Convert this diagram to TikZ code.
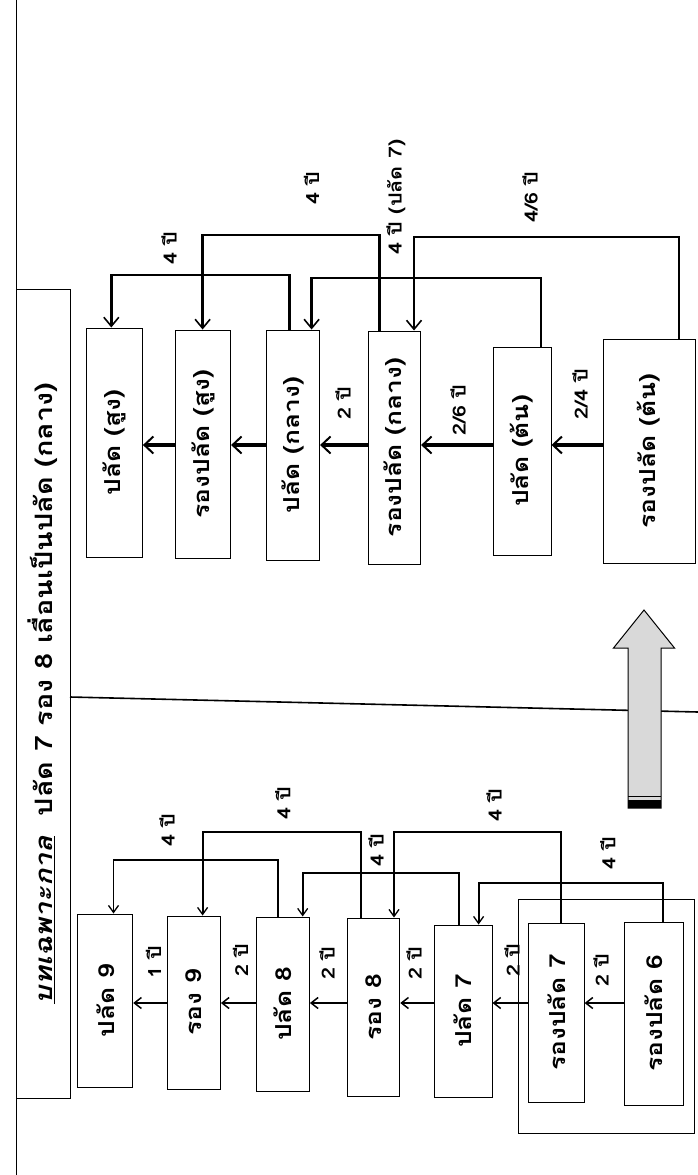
\documentclass[tikz,border=0pt]{standalone}
\usepackage{fontspec}
\newfontfamily\thai[Script=Thai, FakeStretch=1.2]{Loma}
\usetikzlibrary{arrows.meta}
\newcommand{\rt}[1]{\rotatebox{90}{#1}}
\begin{document}
\begin{tikzpicture}[x=1pt,y=-1pt,
  box/.style={draw, line width=1pt, inner sep=0pt, font=\thai\bfseries\fontsize{22}{22}\selectfont},
  lbl/.style={inner sep=0pt, font=\thai\bfseries\fontsize{18}{18}\selectfont},
  harr/.style={line width=3.2pt, -{Straight Barb[length=9pt,width=17pt,line width=2pt]}},
  barr/.style={line width=2.6pt, -{Straight Barb[length=9pt,width=15pt,line width=1.6pt]}},
  sharr/.style={line width=2.4pt, -{Straight Barb[length=7pt,width=11pt,line width=1.5pt]}},
  sbarr/.style={line width=1.9pt, -{Straight Barb[length=7pt,width=10pt,line width=1.3pt]}}]
\useasboundingbox (0,0) rectangle (698,1175);
% left line and title
\coordinate (ltop) at (16,0);
\coordinate (lbot) at (16,1175);
\draw[line width=1pt] (ltop) -- (lbot);
\node[box, minimum width=54pt, minimum height=809pt, font=\thai\bfseries\fontsize{24}{24}\selectfont] (tb) at (43,693.5)
  {\rt{\underline{\itshape บทเฉพาะกาล}\ \ ปลัด 7 รอง 8 เลื่อนเป็นปลัด (กลาง)}};
% divider
\coordinate (d1) at (70,697);
\coordinate (d2) at (698,712);
\draw[line width=1.6pt] (d1) -- (d2);
% block arrow
\draw[line width=1pt, fill=gray!30] (628,808) -- (628,648) -- (613.5,648) -- (644,610) -- (674.5,648) -- (661,648) -- (661,808) -- cycle;
\fill (628,800) rectangle (661,808);
\draw[line width=1pt] (628,796) -- (661,796);
% top nodes
\node[box, minimum width=55.6pt, minimum height=229pt] (ps) at (114.6,442.5) {\rt{ปลัด (สูง)}};
\node[box, minimum width=54.8pt, minimum height=228pt] (rs) at (203.2,444) {\rt{รองปลัด (สูง)}};
\node[box, minimum width=53.4pt, minimum height=230pt] (pk) at (292.9,445) {\rt{ปลัด (กลาง)}};
\node[box, minimum width=52pt, minimum height=233pt] (rk) at (394.6,447.5) {\rt{รองปลัด (กลาง)}};
\node[box, minimum width=58pt, minimum height=208pt] (pt) at (522,451) {\rt{ปลัด (ต้น)}};
\node[box, minimum width=92pt, minimum height=224pt] (rtn) at (649,451) {\rt{รองปลัด (ต้น)}};
% top horizontal arrows
\draw[harr] (rtn.west |- 0,445) -- (pt.east |- 0,445);
\draw[harr] (pt.west |- 0,445) -- (rk.east |- 0,445);
\draw[harr] (rk.west |- 0,445) -- (pk.east |- 0,445);
\draw[harr] (pk.west |- 0,445) -- (rs.east |- 0,445);
\draw[harr] (rs.west |- 0,445) -- (ps.east |- 0,445);
\node[lbl] (t1) at (580,394) {\rt{2/4 ปี}};
\node[lbl] (t2) at (458,410) {\rt{2/6 ปี}};
\node[lbl] (t3) at (343,403) {\rt{2 ปี}};
% top bypass arrows
\draw[barr] (pk.north -| 289.4,0) -- (289.4,275) -| (ps.north -| 111.3,0);
\draw[barr] (rk.north -| 379.3,0) -- (379.3,235) -| (rs.north -| 202.6,0);
\draw[barr] (pt.north -| 541,0) -- (541,278) -| (pk.north -| 311.6,0);
\draw[barr] (rtn.north -| 679,0) -- (679,237) -| (rk.north -| 414,0);
\node[lbl] (t4) at (169,248) {\rt{4 ปี}};
\node[lbl] (t5) at (311.6,188) {\rt{4 ปี}};
\node[lbl] (t6) at (396,197) {\rt{4 ปี (ปลัด 7)}};
\node[lbl] (t7) at (530,197) {\rt{4/6 ปี}};
% bottom nodes
\node[box, minimum width=176pt, minimum height=234pt] (enc) at (606.6,1016) {};
\node[box, minimum width=54.8pt, minimum height=173pt] (p9) at (105.3,1000.5) {\rt{ปลัด 9}};
\node[box, minimum width=53.4pt, minimum height=173pt] (r9) at (193.7,1002.5) {\rt{รอง 9}};
\node[box, minimum width=53.4pt, minimum height=174pt] (p8) at (282.7,1004) {\rt{ปลัด 8}};
\node[box, minimum width=52.5pt, minimum height=178pt] (r8) at (373.5,1007) {\rt{รอง 8}};
\node[box, minimum width=58pt, minimum height=172pt] (p7) at (463,1011) {\rt{ปลัด 7}};
\node[box, minimum width=55.2pt, minimum height=179pt] (rp7) at (556.5,1012.5) {\rt{รองปลัด 7}};
\node[box, minimum width=58.8pt, minimum height=183pt] (rp6) at (654,1013.5) {\rt{รองปลัด 6}};
% bottom horizontal arrows
\draw[sharr] (rp6.west |- 0,1003) -- (rp7.east |- 0,1003);
\draw[sharr] (rp7.west |- 0,1003) -- (p7.east |- 0,1003);
\draw[sharr] (p7.west |- 0,1003) -- (r8.east |- 0,1003);
\draw[sharr] (r8.west |- 0,1003) -- (p8.east |- 0,1003);
\draw[sharr] (p8.west |- 0,1003) -- (r9.east |- 0,1003);
\draw[sharr] (r9.west |- 0,1003) -- (p9.east |- 0,1003);
\node[lbl] (b1) at (153.6,962) {\rt{1 ปี}};
\node[lbl] (b2) at (240.4,960) {\rt{2 ปี}};
\node[lbl] (b3) at (327,963) {\rt{2 ปี}};
\node[lbl] (b4) at (414,963) {\rt{2 ปี}};
\node[lbl] (b5) at (512,960) {\rt{2 ปี}};
\node[lbl] (b6) at (601,970) {\rt{2 ปี}};
% bottom bypass arrows
\draw[sbarr] (p8.north -| 278.2,0) -- (278.2,860) -| (p9.north -| 113.5,0);
\draw[sbarr] (r8.north -| 360.6,0) -- (360.6,832) -| (r9.north -| 202.6,0);
\draw[sbarr] (p7.north -| 458.6,0) -- (458.6,873) -| (p8.north -| 302.7,0);
\draw[sbarr] (rp7.north -| 561,0) -- (561,832) -| (r8.north -| 394,0);
\draw[sbarr] (rp6.north -| 663.4,0) -- (663.4,883) -| (p7.north -| 478.6,0);
\node[lbl] (b7) at (167,830) {\rt{4 ปี}};
\node[lbl] (b8) at (282.7,803) {\rt{4 ปี}};
\node[lbl] (b9) at (376,850) {\rt{4 ปี}};
\node[lbl] (b10) at (494,805) {\rt{4 ปี}};
\node[lbl] (b11) at (607.7,853) {\rt{4 ปี}};
\end{tikzpicture}
\end{document}
